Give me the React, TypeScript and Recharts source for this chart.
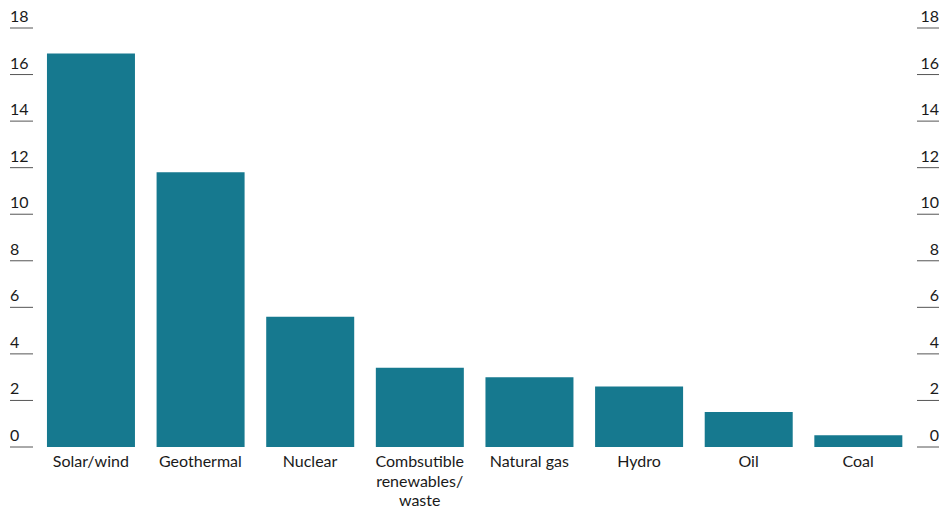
import { ComposedChart, Bar, Line, XAxis, YAxis } from "recharts";

// Sources, ordered by value
const SOURCES = [
  "Solar/wind",
  "Geothermal",
  "Nuclear",
  "Combsutible\nrenewables/\nwaste",
  "Natural gas",
  "Hydro",
  "Oil",
  "Coal",
];
const VALUES = [16.9, 11.8, 5.6, 3.4, 3.0, 2.6, 1.5, 0.5];
const Y_TICKS = [0, 2, 4, 6, 8, 10, 12, 14, 16, 18];

const data = SOURCES.map((source, i) => ({ source, value: VALUES[i] }));

const TEAL = "#16798f";
const INK = "#1a1a1a";
const FONT = "Lato, 'Open Sans', sans-serif";

const W = 941;
const H = 509;

function LeftTick({ y, payload }: any) {
  return (
    <g>
      <line x1={10} x2={33} y1={y} y2={y} stroke="#555" strokeWidth={1} />
      <text x={10} y={y - 6} fill={INK} fontSize={16} fontFamily={FONT} textAnchor="start">
        {payload.value}
      </text>
    </g>
  );
}

function RightTick({ y, payload }: any) {
  return (
    <g>
      <line x1={917} x2={939} y1={y} y2={y} stroke="#555" strokeWidth={1} />
      <text x={939} y={y - 6} fill={INK} fontSize={16} fontFamily={FONT} textAnchor="end">
        {payload.value}
      </text>
    </g>
  );
}

function CategoryTick({ x, y, payload }: any) {
  const lines = String(payload.value).split("\n");
  return (
    <text x={x} y={y} fill={INK} fontSize={16} fontFamily={FONT} textAnchor="middle">
      {lines.map((line, i) => (
        <tspan key={i} x={x} dy={i === 0 ? 20 : 19.5}>
          {line}
        </tspan>
      ))}
    </text>
  );
}

export default function App() {
  return (
    <div style={{ position: "absolute", left: 0, top: 0, width: W, height: H, background: "#fff" }}>
      <ComposedChart
        width={W}
        height={H}
        data={data}
        margin={{ top: 28, right: 0, bottom: 0, left: 0 }}
        barCategoryGap="10%"
      >
        <XAxis
          dataKey="source"
          axisLine={false}
          tickLine={false}
          tickSize={0}
          tickMargin={0}
          height={62}
          interval={0}
          tick={<CategoryTick />}
        />
        <YAxis
          yAxisId="left"
          orientation="left"
          width={36}
          domain={[0, 18]}
          ticks={Y_TICKS}
          axisLine={false}
          tickLine={false}
          interval={0}
          tick={<LeftTick />}
        />
        <YAxis
          yAxisId="right"
          orientation="right"
          width={28}
          domain={[0, 18]}
          ticks={Y_TICKS}
          axisLine={false}
          tickLine={false}
          interval={0}
          tick={<RightTick />}
        />
        <Bar yAxisId="left" dataKey="value" fill={TEAL} isAnimationActive={false} />
        {/* invisible series so the mirrored right-hand scale gets drawn */}
        <Line
          yAxisId="right"
          dataKey="value"
          stroke="none"
          dot={false}
          activeDot={false}
          legendType="none"
          isAnimationActive={false}
        />
      </ComposedChart>
    </div>
  );
}
